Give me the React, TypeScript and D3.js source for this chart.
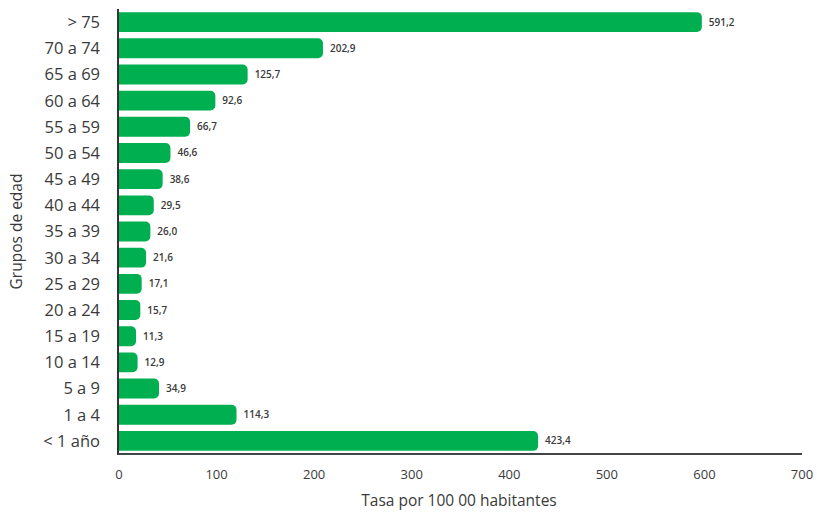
import React from "react";
import * as d3 from "d3";

const categories = [
  "> 75", "70 a 74", "65 a 69", "60 a 64", "55 a 59", "50 a 54", "45 a 49",
  "40 a 44", "35 a 39", "30 a 34", "25 a 29", "20 a 24", "15 a 19", "10 a 14",
  "5 a 9", "1 a 4", "< 1 año",
];
const values = [591.2, 202.9, 125.7, 92.6, 66.7, 46.6, 38.6, 29.5, 26.0, 21.6, 17.1, 15.7, 11.3, 12.9, 34.9, 114.3, 423.4];
const xTicks = [0, 100, 200, 300, 400, 500, 600, 700];
const xTitle = "Tasa por 100 00 habitantes";
const yTitle = "Grupos de edad";

const W = 817, H = 518;
const M = { left: 119, right: 15, top: 9, bottom: 64 };
const GREEN = "#00B050";
const TEXT = "#3a3a3a";
const FONT = "'Open Sans', 'Noto Sans', sans-serif";

export default function App() {
  const x = d3.scaleLinear().domain([0, 700]).range([M.left, W - M.right]);
  const y = d3.scaleBand<string>().domain(categories).range([M.top, H - M.bottom]).paddingInner(0.24).paddingOuter(0.12);
  const fmt = (v: number) => v.toFixed(1).replace(".", ",");
  const ext = 6, r = 5;
  const barPath = (v: number, c: string) => {
    const x0 = x(0), x1 = x(v) + ext, y0 = y(c)!, h = y.bandwidth();
    return `M${x0},${y0} H${x1 - r} A${r},${r} 0 0 1 ${x1},${y0 + r} V${y0 + h - r} A${r},${r} 0 0 1 ${x1 - r},${y0 + h} H${x0} Z`;
  };
  const axisY = H - M.bottom;
  return (
    <svg width={W} height={H} style={{ position: "absolute", left: 0, top: 0, background: "#fff" }} fontFamily={FONT}>
      {categories.map((c, i) => (
        <g key={c}>
          <path d={barPath(values[i], c)} fill={GREEN} />
          <text x={x(values[i]) + ext + 7} y={y(c)! + y.bandwidth() / 2} dy="0.35em" fontSize={10} fontWeight={600} fill={TEXT}>
            {fmt(values[i])}
          </text>
          <text x={M.left - 19} y={y(c)! + y.bandwidth() / 2} dy="0.36em" textAnchor="end" fontSize={16.5} fill={TEXT}>
            {c}
          </text>
        </g>
      ))}
      <line x1={M.left - 1} x2={M.left - 1} y1={M.top} y2={axisY + 1} stroke="#333" strokeWidth={2} />
      <line x1={M.left - 1} x2={x(700)} y1={axisY} y2={axisY} stroke="#444" strokeWidth={2} />
      {xTicks.map((t) => (
        <text key={t} x={x(t)} y={axisY + 25} textAnchor="middle" fontSize={13} fill={TEXT}>
          {t}
        </text>
      ))}
      <text x={459} y={H - 12} textAnchor="middle" fontSize={15.5} fill={TEXT}>{xTitle}</text>
      <text transform={`translate(22,${(M.top + axisY) / 2}) rotate(-90)`} textAnchor="middle" fontSize={15.5} fill={TEXT}>{yTitle}</text>
    </svg>
  );
}
